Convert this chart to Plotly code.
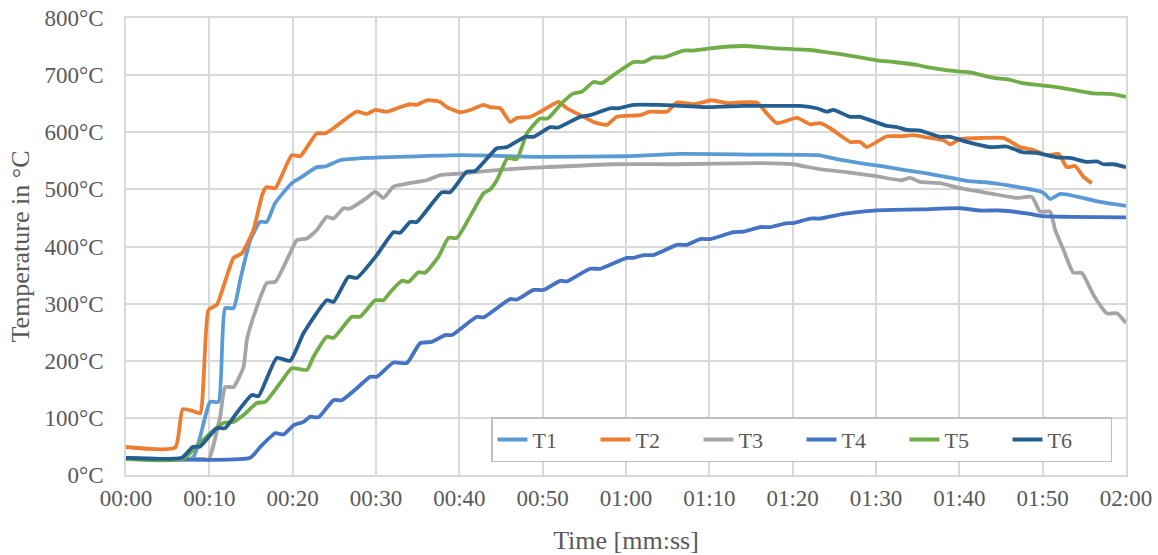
import plotly.graph_objects as go

tick_vals = [0, 10, 20, 30, 40, 50, 60, 70, 80, 90, 100, 110, 120]
tick_text = ["00:00", "00:10", "00:20", "00:30", "00:40", "00:50", "01:00",
             "01:10", "01:20", "01:30", "01:40", "01:50", "02:00"]
y_vals = [0, 100, 200, 300, 400, 500, 600, 700, 800]
y_text = ["0°C", "100°C", "200°C", "300°C", "400°C", "500°C", "600°C", "700°C", "800°C"]

T1_t = [0, 8, 8.9, 10.1, 11.1, 11.9, 12.9, 13.7, 14.9, 16.1, 16.9, 17.9, 19.9, 20.9, 22.9, 23.9,
        25.7, 28.9, 32.9, 40.4, 50, 60, 66.5, 75, 83, 85.3, 88.1, 90.5, 93.3, 96.1, 100.9, 104.1,
        108.9, 110.1, 110.9, 112.1, 113, 116.9, 120]
T1_v = [30, 30, 67, 128, 128, 292, 292, 341, 411, 443, 443, 476, 511, 520, 539, 540,
        551, 555, 557, 560, 557, 558, 562, 561, 560, 553, 546, 541, 534, 528, 515, 511,
        499, 494, 483, 492, 491, 478, 471]

T2_t = [0, 5.9, 6.8, 8.0, 8.9, 9.9, 10.9, 12.9, 13.9, 15.3, 15.7, 16.4, 16.9, 17.9, 19.9, 20.9,
        22.9, 23.9, 24.9, 27.7, 28.9, 29.9, 31.3, 32.9, 34.1, 34.9, 36.1, 37.7, 38.5, 40.1, 41.3,
        42.9, 43.7, 44.9, 46.1, 46.9, 48.5, 50.1, 51.9, 52.9, 54.5, 56.1, 57.7, 58.9, 61.7, 62.9,
        64.9, 66.1, 68.1, 70.3, 72.1, 73.3, 75.7, 76.9, 78.1, 80.5, 82.1, 83.3, 84.5, 86.9, 88.1,
        88.9, 91.3, 92.9, 94.5, 96.1, 98.1, 98.9, 100.1, 102.9, 105.3, 107.3, 108.9, 110.5, 111.9,
        112.9, 113.9, 114.9, 115.9]
T2_v = [49, 48, 115, 112, 108, 289, 298, 380, 388, 429, 452, 493, 504, 502, 560, 558,
        598, 598, 607, 636, 632, 639, 636, 644, 649, 648, 656, 653, 644, 635, 639,
        648, 644, 642, 618, 625, 627, 639, 653, 642, 630, 618, 613, 627, 630, 636,
        636, 652, 649, 656, 651, 652, 652, 633, 616, 625, 614, 616, 607, 583, 583,
        574, 593, 593, 595, 591, 586, 579, 588, 590, 590, 574, 569, 560, 562,
        539, 541, 522, 511]

T3_t = [0, 9.5, 9.9, 11.3, 11.9, 12.9, 14.1, 14.5, 15.3, 16.9, 17.9, 19.3, 20.5, 21.7, 22.9,
        24.1, 24.9, 26.1, 26.8, 28.9, 29.9, 30.9, 32.1, 33.7, 34.9, 36.1, 37.7, 39.7, 42.5, 46.5,
        50.5, 58.5, 66, 76, 80, 83, 86, 90, 93, 94.1, 95.3, 97.7, 100.1, 103.7, 106.9, 108.7,
        109.7, 110.9, 111.5, 112.5, 113.7, 114.7, 116.1, 117.7, 118.9, 120]
T3_v = [28, 28, 26, 102, 154, 154, 189, 236, 277, 336, 338, 376, 411, 414, 429,
        452, 449, 467, 466, 485, 496, 485, 505, 510, 513, 516, 525, 527, 531, 536,
        539, 544, 544, 546, 544, 536, 531, 523, 516, 520, 513, 511, 502, 493, 485, 487,
        461, 461, 429, 394, 354, 354, 315, 283, 283, 266]

T4_t = [0, 14.9, 16.1, 17.9, 18.9, 20.1, 21.3, 22.1, 23.1, 24.9, 25.9, 27.7, 29.3, 30.1, 32.1,
        33.7, 35.3, 36.7, 38.3, 39.1, 42.1, 42.9, 46.1, 46.9, 48.9, 50.1, 52.1, 52.9, 55.7, 56.9,
        60.1, 60.9, 62.1, 63.3, 66.1, 67.3, 68.9, 70.1, 72.9, 74.1, 76.1, 77.3, 79.3, 80.1, 82.1,
        83.3, 86.1, 88.9, 92.1, 95.3, 100.1, 102.5, 104.9, 108.1, 110.1, 113, 120]
T4_v = [30, 30, 49, 73, 71, 87, 93, 102, 101, 131, 131, 152, 172, 172, 197,
        196, 231, 233, 245, 245, 277, 276, 308, 307, 324, 324, 340, 339, 361, 361,
        380, 380, 385, 385, 403, 403, 413, 413, 425, 426, 434, 434, 441, 441, 449,
        449, 457, 462, 464, 465, 467, 463, 463, 458, 453, 452, 451]

T5_t = [0, 6.8, 8.9, 10.1, 11.7, 12.9, 14.1, 15.7, 16.7, 18.5, 19.9, 21.7, 22.5, 24.1, 24.9,
        27.1, 28.1, 29.9, 30.9, 31.7, 33.1, 33.9, 35.1, 35.9, 37.5, 38.7, 39.7, 41.5, 42.9, 43.7,
        44.5, 45.8, 46.9, 48.1, 49.7, 50.6, 52.3, 53.7, 54.7, 56.1, 57.1, 58.5, 60.9, 62.1, 63.3,
        64.5, 66.9, 68.1, 70.1, 74, 78.1, 82.1, 84.1, 86.5, 90.1, 92.1, 94.9, 96.1, 100.1, 101.3,
        104.1, 105.7, 107.6, 111.7, 113.7, 116.1, 118.1, 120]
T5_v = [28, 28, 56, 73, 91, 93, 105, 126, 128, 161, 187, 184, 207, 242, 240,
        277, 277, 306, 306, 320, 340, 338, 355, 354, 382, 415, 415, 458, 493, 500,
        516, 555, 553, 598, 624, 624, 651, 668, 671, 688, 686, 700, 723, 723, 731,
        731, 743, 743, 747, 751, 747, 744, 740, 735, 726, 723, 718, 714, 706, 705,
        695, 693, 686, 679, 674, 668, 667, 662]

T6_t = [0, 6.7, 8.0, 8.9, 10.9, 11.9, 13.3, 15.1, 15.9, 18.1, 19.7, 21.3, 24.1, 24.9, 26.7,
        27.7, 30.1, 32.1, 32.9, 34.1, 34.9, 37.9, 38.9, 40.9, 41.9, 44.5, 45.7, 47.9, 48.9, 50.9,
        51.8, 54.5, 55.7, 58.1, 59.1, 60.9, 64, 70, 74, 78.1, 80.9, 82.9, 84.1, 84.9, 86.9,
        88.1, 91.3, 92.5, 93.7, 95.3, 97.7, 98.9, 100.9, 103.7, 105.7, 107.6, 109.3, 111.7, 113.3,
        115.3, 116.5, 117.3, 118.5, 120]
T6_v = [30, 30, 49, 50, 82, 82, 109, 140, 138, 205, 200, 248, 306, 303, 347,
        345, 385, 425, 424, 443, 443, 495, 495, 531, 532, 572, 574, 592, 592, 609,
        608, 627, 630, 642, 642, 648, 648, 644, 646, 646, 646, 642, 636, 639, 627,
        627, 611, 609, 604, 603, 592, 592, 583, 574, 575, 565, 564, 556, 555,
        548, 549, 544, 544, 539]

series = [
    ("T1", T1_t, T1_v, "#5B9BD5"),
    ("T2", T2_t, T2_v, "#ED7D31"),
    ("T3", T3_t, T3_v, "#A5A5A5"),
    ("T4", T4_t, T4_v, "#4472C4"),
    ("T5", T5_t, T5_v, "#70AD47"),
    ("T6", T6_t, T6_v, "#255E91"),
]

fig = go.Figure()
for name, t, v, c in series:
    fig.add_trace(go.Scatter(x=t, y=v, name=name, mode="lines",
                             line=dict(color=c, width=3.8, shape="spline", smoothing=0.5)))

font_family = "Liberation Serif, Times New Roman, serif"
grid = "#D9D9D9"
fig.update_layout(
    width=1158, height=555,
    margin=dict(l=126, r=32, t=18, b=80),
    paper_bgcolor="white", plot_bgcolor="white",
    font=dict(family=font_family, size=23, color="#595959"),
    showlegend=True,
    legend=dict(orientation="h", x=0.986, y=0.028, xanchor="right", yanchor="bottom",
                bgcolor="white", bordercolor="#BFBFBF", borderwidth=1.5,
                font=dict(family=font_family, size=22, color="#595959"),
                itemwidth=30, entrywidth=58, tracegroupgap=0),
    xaxis=dict(range=[0, 120], tickvals=tick_vals, ticktext=tick_text, automargin=False,
               showgrid=True, gridcolor=grid, gridwidth=1.5, zeroline=False,
               showline=True, linecolor=grid, linewidth=1.5, mirror=True,
               ticks="", ticklabelstandoff=2, ticklabeloverflow="allow",
               title=dict(text="Time [mm:ss]", font=dict(size=26), standoff=20)),
    yaxis=dict(range=[0, 800], tickvals=y_vals, ticktext=y_text, automargin=False,
               showgrid=True, gridcolor=grid, gridwidth=1.5, zeroline=False,
               showline=True, linecolor=grid, linewidth=1.5, mirror=True,
               ticks="", ticklabelstandoff=16, ticklabeloverflow="allow",
               title=dict(text="Temperature in °C", font=dict(size=26), standoff=8)),
)

fig.write_html(
    "out.html",
    config={"displayModeBar": False},
    post_script="document.body.style.margin='0';"
                "document.documentElement.style.overflow='hidden';"
                "document.body.style.overflow='hidden';",
)
